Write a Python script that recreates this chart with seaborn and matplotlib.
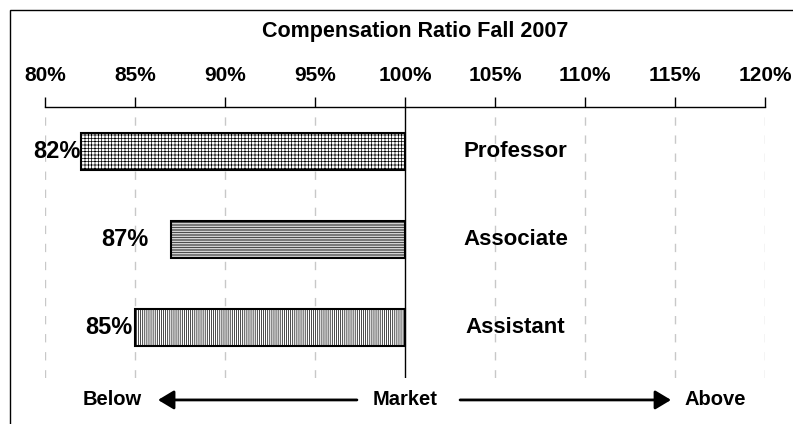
import numpy as np
import pandas as pd
import matplotlib.pyplot as plt
import matplotlib.ticker as mticker
from matplotlib.patches import Rectangle
import seaborn as sns

sns.set_theme(style="white")
plt.rcParams["font.family"] = ["Liberation Sans", "DejaVu Sans"]
plt.rcParams["font.weight"] = "bold"
plt.rcParams["text.color"] = "black"
plt.rcParams["xtick.color"] = "black"
plt.rcParams["hatch.linewidth"] = 0.5

# ── Dados ────────────────────────────────────────────────────────────────────
categorias = ["Professor", "Associate", "Assistant"]
razao = [82, 87, 85]            # % do mercado
ticks_pct = [80, 85, 90, 95, 100, 105, 110, 115, 120]
titulo = "Compensation Ratio Fall 2007"

MERCADO = 100
hachuras = ["+++++", "----------", "||||||||"]
pad_rotulo = [0, 16.5, 1.5]      # afastamento (pt) do rótulo em relação à barra

df = pd.DataFrame({"cat": categorias, "delta": np.array(razao) - MERCADO})

fig = plt.figure(figsize=(7.93, 4.24), dpi=100)
ax = fig.add_axes([0.0567, 0.1085, 0.908, 0.639])

sns.barplot(
    data=df, x="delta", y="cat", orient="h", color="white",
    edgecolor="black", linewidth=1.5, width=0.42, ax=ax,
)
for patch, h in zip(ax.patches, hachuras):
    patch.set_hatch(h)
    patch.set_zorder(3)

ax.set_xlim(ticks_pct[0] - MERCADO, ticks_pct[-1] - MERCADO)
ax.set_ylim(2.57, -0.51)

# eixo superior
ax.xaxis.tick_top()
ax.set_xticks([t - MERCADO for t in ticks_pct])
ax.xaxis.set_major_formatter(mticker.FuncFormatter(lambda x, _: f"{x + MERCADO:.0f}%"))
ax.tick_params(axis="x", direction="out", length=7.5, width=1, color="black",
               pad=8.5, labelsize=15, top=True, bottom=False)
for lbl in ax.get_xticklabels():
    lbl.set_fontweight("bold")
ax.set_yticks([])
ax.set_xlabel("")
ax.set_ylabel("")
for s in ["left", "right", "bottom"]:
    ax.spines[s].set_visible(False)
ax.spines["top"].set_color("black")
ax.spines["top"].set_linewidth(1)

# linhas de grade tracejadas
for t in ticks_pct:
    if t == MERCADO:
        ax.axvline(0, color="black", lw=1, zorder=4)
    else:
        ax.axvline(t - MERCADO, color="#c8c8c8", lw=1, ls=(0, (6, 7)), zorder=1)

# rótulos de valor e categoria
for i, (v, cat) in enumerate(zip(razao, categorias)):
    ax.annotate(f"{v}%", xy=(v - MERCADO, i), xytext=(-pad_rotulo[i], 0),
                textcoords="offset points", ha="right", va="center",
                fontsize=17, fontweight="bold")
    ax.text(6.14, i, cat, ha="center", va="center", fontsize=16, fontweight="bold")

# seta Below / Market / Above
y_seta = -0.081
trans = ax.get_xaxis_transform()
for x, txt in [(-16.25, "Below"), (0.0, "Market"), (17.25, "Above")]:
    ax.text(x, y_seta, txt, transform=trans, ha="center", va="center",
            fontsize=14.5, fontweight="bold", clip_on=False)
seta = dict(arrowstyle="-|>,head_length=0.6,head_width=0.36", mutation_scale=16,
            lw=2, color="black", shrinkA=0, shrinkB=0)
ax.annotate("", xy=(-13.72, y_seta), xytext=(-2.67, y_seta), xycoords=trans,
            textcoords=trans, arrowprops=seta, annotation_clip=False)
ax.annotate("", xy=(14.78, y_seta), xytext=(3.06, y_seta), xycoords=trans,
            textcoords=trans, arrowprops=seta, annotation_clip=False)

fig.text(0.523, 0.925, titulo, ha="center", va="center", fontsize=15.5, fontweight="bold")

# moldura da figura
fig.add_artist(Rectangle((10 / 793, -0.05), 1.1, 1 - 10 / 424 + 0.05,
                         transform=fig.transFigure, fill=False, ec="black", lw=1))

fig.savefig("out.png", dpi=100)
